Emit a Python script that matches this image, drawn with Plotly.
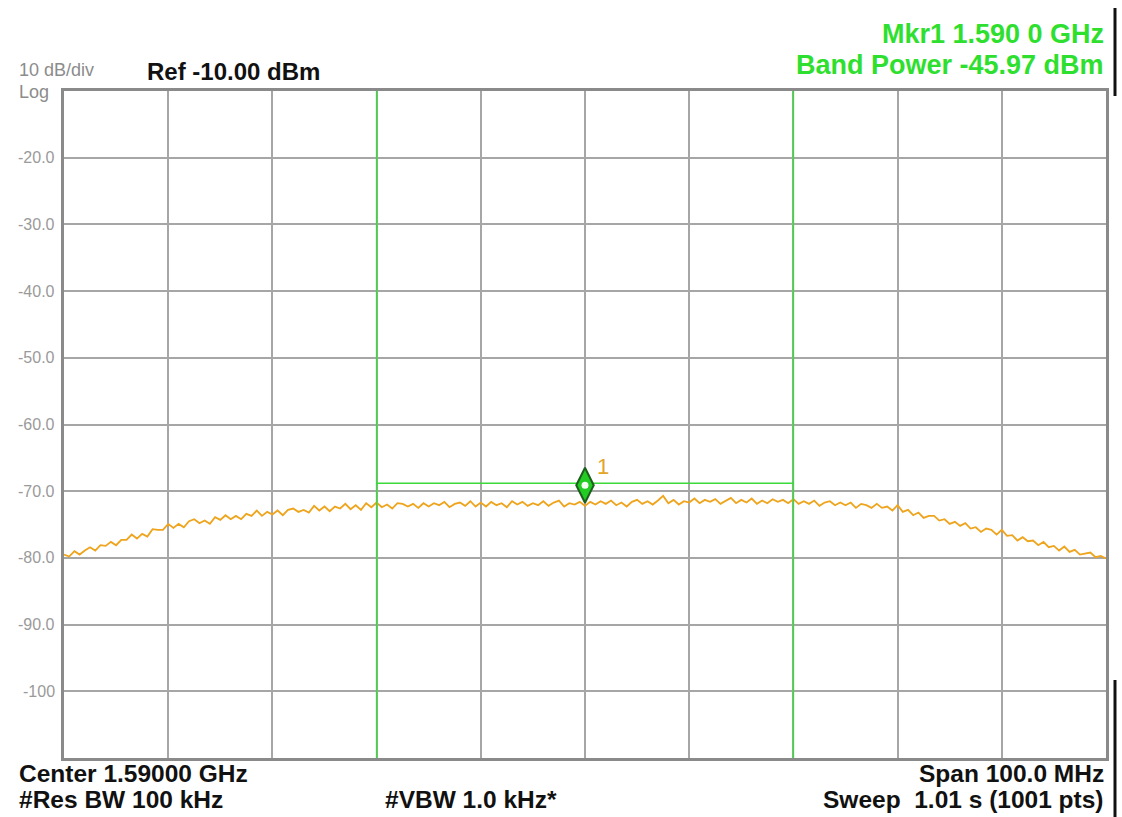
import numpy as np
import plotly.graph_objects as go

# ---------------- data ----------------
f_start_mhz = 1540.0
f_stop_mhz = 1640.0
trace_dbm = [
    -79.5, -79.8, -79.0, -79.5, -78.9, -78.4, -78.9, -78.1, -78.2, -77.6,
    -78.1, -77.3, -77.3, -76.5, -77.1, -76.4, -76.8, -75.7, -75.8, -75.8,
    -74.9, -75.5, -74.9, -75.4, -74.5, -74.2, -74.8, -74.4, -74.9, -73.9,
    -74.3, -73.6, -74.2, -73.7, -74.2, -73.4, -73.7, -72.9, -73.7, -73.1,
    -73.5, -72.9, -73.6, -72.8, -72.6, -73.1, -72.8, -73.2, -72.2, -72.9,
    -72.3, -73.0, -72.3, -72.6, -71.9, -72.7, -72.1, -72.8, -71.8, -72.4,
    -71.7, -72.4, -72.0, -72.6, -71.8, -71.9, -72.3, -71.9, -72.5, -71.8,
    -72.3, -71.8, -72.1, -71.6, -72.4, -71.9, -71.7, -72.2, -71.5, -72.3,
    -71.7, -72.3, -71.6, -72.1, -71.8, -72.4, -71.5, -72.0, -71.6, -72.2,
    -71.8, -72.1, -71.5, -72.2, -71.7, -71.4, -72.3, -71.8, -72.0, -71.6,
    -72.2, -71.6, -72.0, -71.5, -71.9, -71.4, -72.1, -71.7, -72.3, -71.6,
    -71.3, -71.9, -71.5, -72.0, -71.4, -70.7, -71.8, -71.3, -72.0, -71.5,
    -71.7, -71.1, -71.8, -71.3, -71.6, -71.2, -71.9, -71.4, -71.0, -71.8,
    -71.3, -71.7, -71.1, -71.9, -71.4, -71.8, -71.2, -71.6, -71.3, -71.8,
    -71.2, -71.9, -71.5, -71.9, -71.4, -72.2, -71.7, -71.5, -72.1, -71.7,
    -72.1, -71.7, -72.5, -71.9, -72.1, -72.5, -71.9, -72.5, -72.3, -72.9,
    -72.1, -73.1, -72.8, -73.6, -73.2, -74.0, -73.7, -73.7, -74.4, -74.2,
    -74.9, -74.6, -75.2, -74.8, -75.6, -75.4, -76.1, -75.6, -75.8, -76.5,
    -75.8, -76.7, -76.6, -77.4, -76.9, -77.5, -77.4, -78.1, -77.6, -78.4,
    -78.2, -78.9, -78.3, -79.1, -78.8, -79.5, -79.3, -79.2, -79.9, -79.7,
    -80.1,
]
freq_mhz = np.linspace(f_start_mhz, f_stop_mhz, len(trace_dbm))

band_edges_mhz = [1570.0, 1610.0]
band_level_dbm = -68.8
marker_freq_mhz = 1590.0
marker_dbm = -69.1

ytick_vals = [-20, -30, -40, -50, -60, -70, -80, -90, -100]
ytick_text = ["-20.0", "-30.0", "-40.0", "-50.0", "-60.0", "-70.0", "-80.0", "-90.0", "-100"]

# ---------------- layout helpers ----------------
W, H = 1122, 817
L, R, T, B = 64, 16, 91, 59
PW, PH = W - L - R, H - T - B


def px(x):
    return (x - L) / PW


def py(y):
    return (H - B - y) / PH


GREEN = "#3ada3a"
GREEN_TXT = "#2fdf2f"
ORANGE = "#eea41c"
GRID = "#a6a6a6"
FONT = "Liberation Sans, Arial, sans-serif"

fig = go.Figure()

fig.add_trace(go.Scatter(
    x=freq_mhz, y=trace_dbm, mode="lines",
    line=dict(color=ORANGE, width=1.8), hoverinfo="skip", showlegend=False,
))

# band power horizontal line
fig.add_trace(go.Scatter(
    x=band_edges_mhz, y=[band_level_dbm, band_level_dbm], mode="lines",
    line=dict(color=GREEN, width=1.5), hoverinfo="skip", showlegend=False,
))

# marker diamond
fig.add_trace(go.Scatter(
    x=[marker_freq_mhz], y=[marker_dbm], mode="markers",
    marker=dict(symbol="diamond-tall", size=25, color="#22cc22",
                line=dict(color="#1d5f1d", width=2)),
    hoverinfo="skip", showlegend=False,
))
fig.add_trace(go.Scatter(
    x=[marker_freq_mhz], y=[marker_dbm], mode="markers",
    marker=dict(symbol="circle", size=7, color="#f2fff2", line=dict(width=0)),
    hoverinfo="skip", showlegend=False,
))

shapes = []
for xe in band_edges_mhz:
    shapes.append(dict(type="line", xref="x", yref="paper", x0=xe, x1=xe, y0=0, y1=1,
                       line=dict(color=GREEN, width=1.5), layer="above"))
# black edge bars at right of the screenshot
shapes.append(dict(type="line", xref="paper", yref="paper", x0=px(1115), x1=px(1115),
                   y0=py(8), y1=py(96), line=dict(color="#111111", width=3)))
shapes.append(dict(type="line", xref="paper", yref="paper", x0=px(1115), x1=px(1115),
                   y0=py(680), y1=py(817), line=dict(color="#111111", width=3)))

annotations = []
for v, t in zip(ytick_vals, ytick_text):
    annotations.append(dict(x=px(57), y=v, xref="paper", yref="y", text=t,
                            showarrow=False, xanchor="right", yanchor="middle",
                            font=dict(family=FONT, size=16, color="#9a9a9a")))


def txt(text, x, y, anchor, size, color, bold=True):
    return dict(x=px(x), y=py(y), xref="paper", yref="paper",
                text=("<b>%s</b>" % text) if bold else text,
                showarrow=False, xanchor=anchor, yanchor="middle",
                font=dict(family=FONT, size=size, color=color))


annotations += [
    txt("10 dB/div", 17, 70, "left", 18, "#8c8c8c", bold=False),
    txt("Log", 17, 92, "left", 18, "#8c8c8c", bold=False),
    txt("Ref -10.00 dBm", 145, 71, "left", 24, "#111111"),
    txt("Mkr1 1.590 0 GHz", 1106, 34, "right", 27, GREEN_TXT),
    txt("Band Power -45.97 dBm", 1106, 65, "right", 27, GREEN_TXT),
    txt("Center 1.59000 GHz", 17, 773, "left", 24.5, "#111111"),
    txt("#Res BW 100 kHz", 17, 799, "left", 24.5, "#111111"),
    txt("#VBW 1.0 kHz*", 383, 799, "left", 24.5, "#111111"),
    txt("Span 100.0 MHz", 1106, 773, "right", 24.5, "#111111"),
    txt("Sweep\u00a0 1.01 s (1001 pts)", 1106, 799, "right", 24.5, "#111111"),
]
annotations.append(dict(x=marker_freq_mhz, y=marker_dbm, xref="x", yref="y", text="1",
                        showarrow=False, xanchor="center", yanchor="middle",
                        xshift=18, yshift=19,
                        font=dict(family=FONT, size=22, color="#e2a52a")))

fig.update_layout(
    width=W, height=H,
    margin=dict(l=L, r=R, t=T, b=B, pad=0),
    paper_bgcolor="white", plot_bgcolor="white",
    shapes=shapes, annotations=annotations,
    showlegend=False,
    xaxis=dict(range=[f_start_mhz, f_stop_mhz], tick0=f_start_mhz, dtick=10,
               showgrid=True, gridcolor=GRID, gridwidth=1.6, zeroline=False,
               showticklabels=False, ticks="", showline=True, linecolor="#8a8a8a",
               linewidth=3, mirror=True, fixedrange=True),
    yaxis=dict(range=[-110, -10], tick0=-110, dtick=10,
               showgrid=True, gridcolor=GRID, gridwidth=1.6, zeroline=False,
               showticklabels=False, ticks="", showline=True, linecolor="#8a8a8a",
               linewidth=3, mirror=True, fixedrange=True),
)

fig.write_html("out.html", config={"displayModeBar": False})
